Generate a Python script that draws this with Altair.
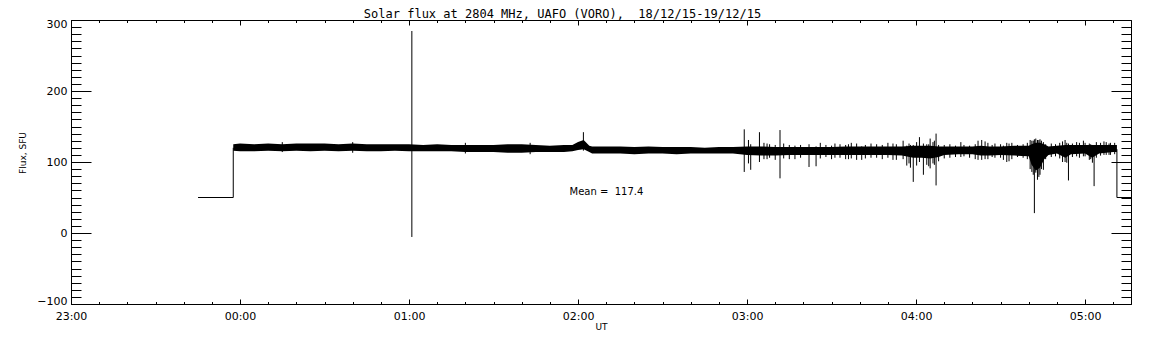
import json
import altair as alt
import pandas as pd

# ---------------- data (minutes after 23:00 UT, flux in SFU) ----------------
hour_labels = ["23:00", "00:00", "01:00", "02:00", "03:00", "04:00", "05:00"]
major_x = [0, 60, 120, 180, 240, 300, 360]
minor_x = list(range(0, 377, 10))
major_y = [-100, 0, 100, 200, 300]
minor_y = list(range(-100, 301, 10))

# envelope of the dense noisy trace
band_t = [57.6, 60, 65, 70, 75, 80, 85, 90, 95, 100, 105, 110, 115, 120, 125, 130,
          135, 140, 145, 150, 155, 160, 165, 170, 175, 178, 180, 182, 184, 185, 190,
          195, 200, 205, 210, 215, 220, 225, 230, 235, 240, 245, 250, 255, 260, 265,
          270, 275, 280, 285, 290, 295, 299, 302, 305, 308, 310, 315, 320, 323, 326,
          330, 335, 340, 341, 342.5, 344, 345.5, 347, 350, 353, 355, 360, 362.5, 365,
          370, 371.3]
band_hi = [125, 126, 125, 126, 125, 126, 126, 126, 125, 126, 125, 125, 125, 125, 124, 125,
           124, 124, 124, 124, 125, 125, 124, 123, 124, 124, 128, 131, 123, 122, 122,
           122, 121, 122, 121, 121, 121, 120, 121, 121, 122, 122, 121, 121, 121, 121,
           121, 122, 122, 122, 122, 122, 123, 123, 123, 122, 122, 122, 122, 123, 122,
           122, 123, 123, 125, 127, 127, 125, 122, 123, 124, 124, 124, 124, 124,
           124, 124]
band_lo = [116, 115, 115, 116, 115, 116, 115, 116, 115, 116, 115, 115, 116, 115, 115, 115,
           115, 114, 114, 114, 113, 113, 114, 114, 114, 115, 117, 118, 114, 112, 112,
           112, 111, 112, 112, 111, 112, 112, 112, 112, 110, 109, 109, 110, 110, 110,
           110, 110, 110, 110, 110, 109, 106, 106, 105, 107, 110, 111, 111, 109, 109,
           110, 109, 108, 96, 88, 92, 104, 110, 112, 106, 111, 112, 106, 112,
           114, 114]

# isolated spikes of the trace
spike_t = [121.0, 181.9, 75, 100, 140, 163, 239.0, 240.5, 241.3, 244.4, 247.1, 251.7,
           255, 262.0, 264.5, 271.2, 276, 278.9, 280.7, 286.0, 291.8, 295.4, 296.7,
           299.0, 300.2, 301.2, 302.6, 303.8, 305.0, 306, 307.1, 310, 315.9, 323.3,
           324.5, 328, 332.2, 334.0, 341.1, 342.0, 343.1, 344.0, 345.2, 352.9, 354.1,
           358.0, 359.4, 362.0, 363.2, 366.7, 369]
spike_lo = [-5.6, 116, 114, 113, 112, 111, 86, 98, 89, 100, 104, 77,
            104, 93, 94, 106, 104, 103, 103, 106, 103, 104, 95,
            72, 95, 100, 82, 96, 91, 98, 67, 105, 107, 103,
            104, 106, 100, 104, 86, 28, 75, 82, 89, 100, 74,
            106, 108, 104, 66, 110, 110]
spike_hi = [284.5, 142, 128, 128, 127, 127, 146, 131, 125, 142, 126, 145,
            124, 125, 122, 126, 125, 126, 122, 125, 126, 130, 123,
            124, 128, 135, 126, 125, 133, 128, 140, 124, 128, 131,
            129, 126, 127, 127, 130, 132, 131, 132, 128, 131, 126,
            127, 130, 125, 124, 129, 127]

# short fringe hairs of the noisy part of the trace
hair_t = [246, 248, 250, 253, 257, 259, 266, 268, 270, 273, 275, 277, 282, 284, 288,
          290, 293, 297.5, 298, 304.5, 306.5, 308, 312, 314, 317, 319, 321, 322, 325.5,
          327, 330, 331, 333, 336, 338, 339.5, 340.5, 341.6, 342.5, 343.6, 344.5, 346,
          348, 349.5, 351, 352, 353.5, 355.5, 357, 360, 361.5, 362.6, 364, 365.5, 367.5,
          368.5, 370.5]
hair_lo = [104, 106, 103, 105, 104, 106, 105, 107, 104, 106, 104, 105, 105, 106, 104,
           106, 103, 98, 92, 94, 96, 101, 106, 107, 108, 106, 104, 103, 104,
           107, 106, 103, 101, 107, 106, 104, 90, 82, 85, 79, 90, 104,
           107, 108, 105, 100, 99, 107, 108, 108, 103, 99, 106, 109, 110,
           110, 111]
hair_hi = [127, 125, 124, 126, 123, 124, 127, 124, 123, 125, 124, 127, 124, 126, 124,
           127, 125, 126, 124, 125, 130, 124, 125, 123, 124, 123, 125, 130, 127,
           124, 125, 123, 126, 124, 125, 127, 131, 130, 133, 131, 130, 125,
           126, 125, 127, 129, 127, 126, 128, 127, 126, 124, 128, 127, 128,
           126, 127]

start_t = [45.1, 57.6, 57.6]
start_v = [50, 50, 120]
end_t = [371.3, 371.3, 376.3]
end_v = [118, 50, 50]

title_text = "Solar flux at 2804 MHz, UAFO (VORO),\u00a0 18/12/15-19/12/15"
mean_text = "Mean =\u00a0 117.4"
mean_t, mean_v = 177, 57.7

# ---------------- chart ----------------
SANS = "DejaVu Sans"
MONO = "DejaVu Sans Mono"
W, H = 1060, 284

xs = alt.Scale(domain=[0, 376.3], nice=False, zero=False)
ys = alt.Scale(domain=[-100, 300], nice=False, zero=False)

label_expr = json.dumps(hour_labels) + "[round(datum.value / 60)]"


def inward(orient, offset, values, size, domain, **kw):
    return alt.Axis(orient=orient, offset=offset, values=values, tickSize=size,
                    ticks=True, labels=False, domain=domain, domainColor="black",
                    domainWidth=1, grid=False, tickColor="black", tickWidth=1, **kw)


x_main = alt.Axis(orient="bottom", values=major_x, labelExpr=label_expr, ticks=False,
                  tickSize=0, domain=True, domainColor="black", domainWidth=1,
                  grid=False, title="UT", titleFont=SANS, titleFontSize=9,
                  titleFontWeight="normal", titleColor="black", titleY=22,
                  titleBaseline="middle", labelFont=SANS, labelFontSize=11,
                  labelColor="black", labelPadding=6, labelFlush=False,
                  labelOverlap=False, labelBound=False)
y_main = alt.Axis(orient="left", values=major_y, ticks=False, tickSize=0, domain=True,
                  domainColor="black", domainWidth=1, grid=False, title="Flux, SFU",
                  titleFont=SANS, titleFontSize=9, titleFontWeight="normal",
                  titleColor="black", titleX=-48.5, titleY=132.5, titleAngle=270,
                  titleAlign="center", titleBaseline="middle", labelFont=SANS,
                  labelFontSize=11, labelColor="black", labelPadding=4,
                  labelFlush=True, labelFlushOffset=2, labelOverlap=False)

# top border axis also carries the plot title
x_top = inward("bottom", -H, minor_x, 2.5, True, title=title_text, titleFont=MONO,
               titleFontSize=12, titleFontWeight="normal", titleColor="black",
               titleX=491, titleY=-3, titleAlign="center", titleBaseline="alphabetic")

band = pd.DataFrame({"t": band_t, "lo": band_lo, "hi": band_hi})
spikes = pd.DataFrame({"t": spike_t + hair_t, "lo": spike_lo + hair_lo,
                       "hi": spike_hi + hair_hi})
start = pd.DataFrame({"t": start_t, "v": start_v, "i": list(range(len(start_t)))})
end = pd.DataFrame({"t": end_t, "v": end_v, "i": list(range(len(end_t)))})
mean_df = pd.DataFrame({"t": [mean_t], "v": [mean_v], "s": [mean_text]})

band_layer = alt.Chart(band).mark_area(color="black", clip=True, interpolate="linear").encode(
    x=alt.X("t:Q", scale=xs, axis=x_main),
    y=alt.Y("lo:Q", scale=ys, axis=y_main),
    y2="hi:Q",
)

spike_layer = alt.Chart(spikes).mark_rule(color="black", strokeWidth=1, clip=True).encode(
    x=alt.X("t:Q", scale=xs, axis=inward("top", -H, major_x, 5, False, title=None)),
    y=alt.Y("lo:Q", scale=ys, axis=inward("right", -W, major_y, 20, False, title=None)),
    y2="hi:Q",
)

start_layer = alt.Chart(start).mark_line(color="black", strokeWidth=1, clip=True).encode(
    x=alt.X("t:Q", scale=xs, axis=inward("top", -H, minor_x, 2.5, False, title=None)),
    y=alt.Y("v:Q", scale=ys, axis=inward("right", -W, minor_y, 10, False, title=None)),
    order="i:Q",
)

end_layer = alt.Chart(end).mark_line(color="black", strokeWidth=1, clip=True).encode(
    x=alt.X("t:Q", scale=xs, axis=x_top),
    y=alt.Y("v:Q", scale=ys, axis=inward("left", -W, minor_y, 10, True, title=None)),
    order="i:Q",
)

mean_layer = alt.Chart(mean_df).mark_text(align="left", baseline="middle", font=SANS,
                                          fontSize=10, color="black").encode(
    x=alt.X("t:Q", scale=xs, axis=inward("bottom", -H, major_x, 5, False, title=None)),
    y=alt.Y("v:Q", scale=ys, axis=inward("left", -W, major_y, 20, False, title=None)),
    text="s:N",
)

chart = alt.layer(band_layer, spike_layer, start_layer, end_layer, mean_layer).resolve_axis(
    x="independent", y="independent"
).properties(
    width=W,
    height=H,
    autosize=alt.AutoSizeParams(type="none"),
    padding={"left": 63, "top": 12, "right": 13, "bottom": 33},
    background="white",
).configure_view(stroke=None)

chart.save("out.html", embed_options={"renderer": "svg", "actions": False})
